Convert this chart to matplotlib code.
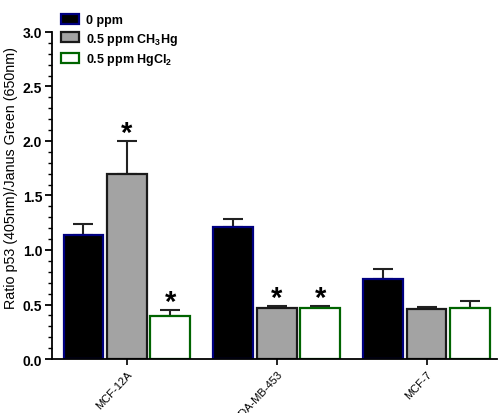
import numpy as np
import matplotlib
matplotlib.use('Agg')
import matplotlib.pyplot as plt
from matplotlib.ticker import MultipleLocator

plt.rcParams['font.family'] = ['Liberation Sans', 'DejaVu Sans']
plt.rcParams['mathtext.fontset'] = 'custom'
plt.rcParams['mathtext.rm'] = 'Liberation Sans:bold'
plt.rcParams['mathtext.default'] = 'rm'

cell_lines = ['MCF-12A', 'MDA-MB-453', 'MCF-7']
series_labels = ['0 ppm', '0.5 ppm CH$_3$Hg', '0.5 ppm HgCl$_2$']
means = [
    [1.14, 1.21, 0.73],
    [1.70, 0.47, 0.46],
    [0.39, 0.47, 0.47],
]
errors = [
    [0.10, 0.07, 0.10],
    [0.30, 0.015, 0.015],
    [0.06, 0.015, 0.06],
]
significant = [
    [False, False, False],
    [True, True, False],
    [True, True, False],
]

faces = ['black', '#a3a3a3', 'white']
edges = ['#000080', '#1a1a1a', '#006400']

fig = plt.figure(figsize=(4.99, 4.14), dpi=100)
ax = fig.add_axes([0.104, 0.1304, 0.892, 0.790])

x = np.arange(len(cell_lines))
width = 0.265
step = 0.29
for i in range(3):
    pos = x + (i - 1) * step
    ax.bar(pos, means[i], width, color=faces[i], edgecolor=edges[i],
           linewidth=1.6, label=series_labels[i], zorder=2)
    ax.errorbar(pos, means[i], yerr=[np.zeros(3), errors[i]], fmt='none',
                ecolor='#222222', elinewidth=1.5, capsize=7, capthick=1.5, zorder=1)
    for j in range(3):
        if significant[i][j]:
            ax.text(pos[j], means[i][j] + errors[i][j] - 0.055, '*', ha='center',
                    va='bottom', fontsize=21, fontweight='bold')

ax.set_xlim(-0.5, 2.47)
ax.set_ylim(0, 3.0)
ax.yaxis.set_major_locator(MultipleLocator(0.5))
ax.yaxis.set_minor_locator(MultipleLocator(0.1))
ax.yaxis.set_major_formatter(matplotlib.ticker.FormatStrFormatter('%.1f'))
ax.spines['top'].set_visible(False)
ax.spines['right'].set_visible(False)
ax.spines['left'].set_linewidth(1.3)
ax.spines['bottom'].set_linewidth(1.3)
ax.tick_params(axis='y', which='major', length=5, width=1.3, labelsize=10, pad=2)
ax.tick_params(axis='y', which='minor', length=3, width=1)
for lbl in ax.get_yticklabels():
    lbl.set_fontweight('bold')
ax.set_xticks(x)
ax.set_xticklabels(cell_lines, rotation=47, ha='right', rotation_mode='anchor',
                   fontsize=8)
ax.tick_params(axis='x', length=4, width=1.2, pad=3)
ax.set_ylabel('Ratio p53 (405nm)/Janus Green (650nm)', fontsize=10.3)
ax.yaxis.set_label_coords(-0.076, 0.558)

leg = ax.legend(loc='upper left', bbox_to_anchor=(0.01, 1.07), frameon=False,
                fontsize=9, handlelength=1.4, handleheight=0.85,
                handletextpad=0.6, labelspacing=0.35, borderaxespad=0)
for t in leg.get_texts():
    t.set_fontweight('bold')

fig.savefig('out.png', dpi=100)
